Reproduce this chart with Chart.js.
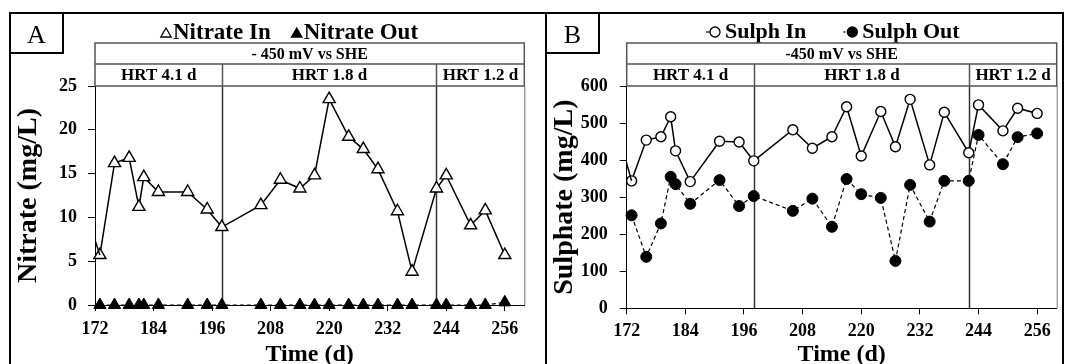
<!DOCTYPE html>
<html>
<head>
<meta charset="utf-8">
<script src="https://cdn.jsdelivr.net/npm/chart.js@4.4.1/dist/chart.umd.min.js"></script>
<style>
html, body { margin: 0; padding: 0; background: #fff; }
#wrap { position: relative; width: 1066px; height: 364px; overflow: hidden; }
.panel { position: absolute; top: 12px; }
#panelA { left: 9px; }
#panelB { left: 545px; }
</style>
</head>
<body>
<div id="wrap">
  <div class="panel" id="panelA"><canvas id="chartA" width="538" height="352"></canvas></div>
  <div class="panel" id="panelB"><canvas id="chartB" width="521" height="352"></canvas></div>
</div>
<script>
// sampling days (d)
var days = [173, 176, 179, 181, 182, 185, 191, 195, 198, 206, 210, 214, 217, 220, 224, 227, 230, 234, 237, 242, 244, 249, 252, 256];

// panel A, nitrate (mg/L)
var nitrateIn = [5.7, 16.2, 16.8, 11.2, 14.6, 12.9, 12.9, 10.9, 8.9, 11.4, 14.3, 13.3, 14.8, 23.5, 19.2, 17.8, 15.5, 10.7, 3.8, 13.3, 14.8, 9.1, 10.8, 5.7];
var nitrateOut = [0, 0, 0, 0, 0, 0, 0, 0, 0, 0, 0, 0, 0, 0, 0, 0, 0, 0, 0, 0, 0, 0, 0, 0.3];

// panel B, sulphate (mg/L)
var sulphIn = [344, 454, 463, 517, 425, 342, 451, 449, 398, 482, 432, 463, 544, 411, 531, 436, 564, 387, 529, 420, 549, 479, 540, 526];
var sulphOut = [251, 139, 229, 355, 335, 282, 346, 276, 303, 263, 296, 220, 349, 308, 298, 128, 333, 234, 344, 344, 468, 389, 462, 472];

// the series begin before day 172, only the segment up to the first shown point is visible
var leadDays = [171, 173];
var leadNitrateIn = [9.1, 5.7];
var leadSulphIn = [438, 344];
var leadSulphOut = [271, 251];

var xTicks = [172, 184, 196, 208, 220, 232, 244, 256];
var hrtBreaks = [198, 242];
var hrtLabels = ['HRT 4.1 d', 'HRT 1.8 d', 'HRT 1.2 d'];

var serif = "'Liberation Serif', 'Times New Roman', serif";

function pts(xs, ys) {
    return xs.map(function (x, i) { return { x: x, y: ys[i] }; });
}

function drawMarker(ctx, style, filled, x, y, r) {
    ctx.beginPath();
    if (style === 'triangle') {
        for (var i = 0; i < 3; i++) {
            var a = i * 2 * Math.PI / 3;
            var px = x + Math.sin(a) * r;
            var py = y - Math.cos(a) * r;
            if (i === 0) ctx.moveTo(px, py); else ctx.lineTo(px, py);
        }
        ctx.closePath();
    } else {
        ctx.arc(x, y, r, 0, Math.PI * 2);
    }
    ctx.fillStyle = filled ? '#000' : '#fff';
    ctx.fill();
    ctx.lineWidth = 1.3;
    ctx.strokeStyle = '#000';
    ctx.stroke();
}

// frame, letter box, legend, header table and HRT dividers
function decor(cfg) {
    return {
        id: 'decor',
        beforeDatasetsDraw: function (chart) {
            var ctx = chart.ctx;
            var a = chart.chartArea;
            var xs = chart.scales.x;
            ctx.save();
            ctx.strokeStyle = '#333';
            ctx.lineWidth = 1.5;
            hrtBreaks.forEach(function (d) {
                var px = Math.round(xs.getPixelForValue(d)) + 0.5;
                ctx.beginPath();
                ctx.moveTo(px, a.top);
                ctx.lineTo(px, a.bottom);
                ctx.stroke();
            });
            ctx.strokeStyle = '#777';
            ctx.lineWidth = 1;
            ctx.beginPath();
            ctx.moveTo(a.right + 0.5, a.top);
            ctx.lineTo(a.right + 0.5, a.bottom);
            ctx.stroke();
            ctx.restore();
        },
        afterDraw: function (chart) {
            var ctx = chart.ctx;
            var a = chart.chartArea;
            var xs = chart.scales.x;
            var W = chart.width;
            var H = chart.height;
            ctx.save();

            // outer frame (open at the bottom)
            ctx.strokeStyle = '#000';
            ctx.lineWidth = 2;
            ctx.beginPath();
            ctx.moveTo(1, H);
            ctx.lineTo(1, 1);
            ctx.lineTo(W - cfg.frameRight, 1);
            ctx.lineTo(W - cfg.frameRight, H);
            ctx.stroke();
            ctx.strokeRect(1, 1, 53, 40);
            ctx.fillStyle = '#000';
            ctx.font = '26px ' + serif;
            ctx.textAlign = 'center';
            ctx.textBaseline = 'alphabetic';
            ctx.fillText(cfg.letter, 27.5, 31);

            // legend
            var lx = cfg.legendX;
            cfg.legend.forEach(function (item, i) {
                if (i > 0) lx += cfg.legendGap;
                var mx = lx + cfg.markerW - item.r;
                if (item.line) {
                    ctx.strokeStyle = '#000';
                    ctx.lineWidth = 1.2;
                    ctx.setLineDash(item.dash || []);
                    ctx.beginPath();
                    ctx.moveTo(lx, cfg.markerY);
                    ctx.lineTo(mx, cfg.markerY);
                    ctx.stroke();
                    ctx.setLineDash([]);
                }
                drawMarker(ctx, item.style, item.filled, mx, cfg.markerY, item.r);
                lx += cfg.markerW + cfg.textGap;
                ctx.fillStyle = '#000';
                ctx.font = 'bold ' + cfg.legendSize + 'px ' + serif;
                ctx.textAlign = 'left';
                ctx.textBaseline = 'alphabetic';
                ctx.fillText(item.text, lx, cfg.legendBase);
                lx += ctx.measureText(item.text).width;
            });

            // header table above the plot
            var top = 31, mid = 52;
            ctx.strokeStyle = '#555';
            ctx.lineWidth = 1.5;
            ctx.strokeRect(a.left, top, a.right - a.left, a.top - top);
            ctx.beginPath();
            ctx.moveTo(a.left, mid);
            ctx.lineTo(a.right, mid);
            var edges = [a.left];
            hrtBreaks.forEach(function (d) {
                var px = Math.round(xs.getPixelForValue(d)) + 0.5;
                edges.push(px);
                ctx.moveTo(px, mid);
                ctx.lineTo(px, a.top);
            });
            edges.push(a.right);
            ctx.stroke();

            ctx.fillStyle = '#000';
            ctx.textAlign = 'center';
            ctx.textBaseline = 'middle';
            ctx.font = 'bold 16px ' + serif;
            ctx.fillText(cfg.header, (a.left + a.right) / 2, (top + mid) / 2 + 1);
            ctx.font = 'bold 17px ' + serif;
            hrtLabels.forEach(function (t, i) {
                ctx.fillText(t, (edges[i] + edges[i + 1]) / 2, (mid + a.top) / 2 + 1);
            });
            ctx.restore();
        }
    };
}

function makeChart(id, cfg) {
    var tickFont = { family: serif, size: 18, weight: 'bold' };
    var xTitleFont = { family: serif, size: 24, weight: 'bold', lineHeight: 1 };
    var yTitleFont = { family: serif, size: 28, weight: 'bold', lineHeight: 1 };
    return new Chart(document.getElementById(id), {
        type: 'line',
        data: { datasets: cfg.datasets },
        options: {
            responsive: false,
            animation: false,
            devicePixelRatio: 1,
            layout: { padding: { top: 74, left: 0, right: cfg.padRight, bottom: 0 } },
            plugins: { legend: { display: false }, tooltip: { enabled: false } },
            scales: {
                x: {
                    type: 'linear',
                    min: 172,
                    max: 260,
                    afterBuildTicks: function (s) {
                        s.ticks = xTicks.map(function (v) { return { value: v }; });
                    },
                    afterFit: function (s) { s.height = cfg.xHeight; },
                    ticks: { font: tickFont, color: '#000', padding: cfg.xPad, maxRotation: 0, autoSkip: false },
                    grid: { drawOnChartArea: false, tickLength: 6, color: '#000' },
                    border: { color: '#000', width: 1 },
                    title: { display: true, text: 'Time (d)', font: xTitleFont, color: '#000', padding: { top: 0, bottom: -3 } }
                },
                y: {
                    min: 0,
                    max: cfg.yMax,
                    afterFit: function (s) { s.width = cfg.yWidth; },
                    ticks: { stepSize: cfg.yStep, font: tickFont, color: '#000', padding: cfg.yPad },
                    grid: { drawOnChartArea: false, tickLength: 7, color: '#000' },
                    border: { color: '#000', width: 1 },
                    title: { display: true, text: cfg.yTitle, font: yTitleFont, color: '#000', padding: { top: 6, bottom: 0 } }
                }
            }
        },
        plugins: [decor(cfg)]
    });
}

makeChart('chartA', {
    letter: 'A',
    header: '- 450 mV vs SHE',
    yTitle: 'Nitrate (mg/L)',
    yMax: 25, yStep: 5,
    yWidth: 86, xHeight: 59, padRight: 22.7, xPad: 8, yPad: 11,
    frameRight: 1,
    legendX: 151, legendGap: 20, markerW: 12, textGap: 1, markerY: 22, legendBase: 27, legendSize: 23,
    legend: [
        { style: 'triangle', filled: false, r: 6, text: 'Nitrate In' },
        { style: 'triangle', filled: true, r: 6, text: 'Nitrate Out' }
    ],
    datasets: [
        {
            data: pts(leadDays, leadNitrateIn), borderColor: '#000', borderWidth: 1.5,
            pointRadius: 0, clip: 0
        },
        {
            label: 'Nitrate In', data: pts(days, nitrateIn), borderColor: '#000', borderWidth: 1.5,
            pointStyle: 'triangle', pointRadius: 7, pointBackgroundColor: '#fff', pointBorderColor: '#000',
            pointBorderWidth: 1.4, clip: false
        },
        {
            label: 'Nitrate Out', data: pts(days, nitrateOut), borderColor: '#000', borderWidth: 1.2,
            borderDash: [4, 3], pointStyle: 'triangle', pointRadius: 7, pointBackgroundColor: '#000',
            pointBorderColor: '#000', pointBorderWidth: 1, clip: false
        }
    ]
});

makeChart('chartB', {
    letter: 'B',
    header: '-450 mV vs SHE',
    yTitle: 'Sulphate (mg/L)',
    yMax: 600, yStep: 100,
    yWidth: 81.7, xHeight: 55.7, padRight: 9.3, xPad: 6, yPad: 12,
    frameRight: 3,
    legendX: 161, legendGap: 37, markerW: 14, textGap: 5, markerY: 20, legendBase: 26, legendSize: 22,
    legend: [
        { style: 'circle', filled: false, r: 5, text: 'Sulph In', line: true },
        { style: 'circle', filled: true, r: 5, text: 'Sulph Out', line: true, dash: [2, 2] }
    ],
    datasets: [
        {
            data: pts(leadDays, leadSulphIn), borderColor: '#000', borderWidth: 1.5,
            pointRadius: 0, clip: 0
        },
        {
            data: pts(leadDays, leadSulphOut), borderColor: '#000', borderWidth: 1.2,
            borderDash: [4, 3], pointRadius: 0, clip: 0
        },
        {
            label: 'Sulph In', data: pts(days, sulphIn), borderColor: '#000', borderWidth: 1.5,
            pointStyle: 'circle', pointRadius: 5, pointBackgroundColor: '#fff', pointBorderColor: '#000',
            pointBorderWidth: 1.4, clip: false
        },
        {
            label: 'Sulph Out', data: pts(days, sulphOut), borderColor: '#000', borderWidth: 1.2,
            borderDash: [4, 3], pointStyle: 'circle', pointRadius: 5.5, pointBackgroundColor: '#000',
            pointBorderColor: '#000', pointBorderWidth: 1, clip: false
        }
    ]
});
</script>
</body>
</html>
